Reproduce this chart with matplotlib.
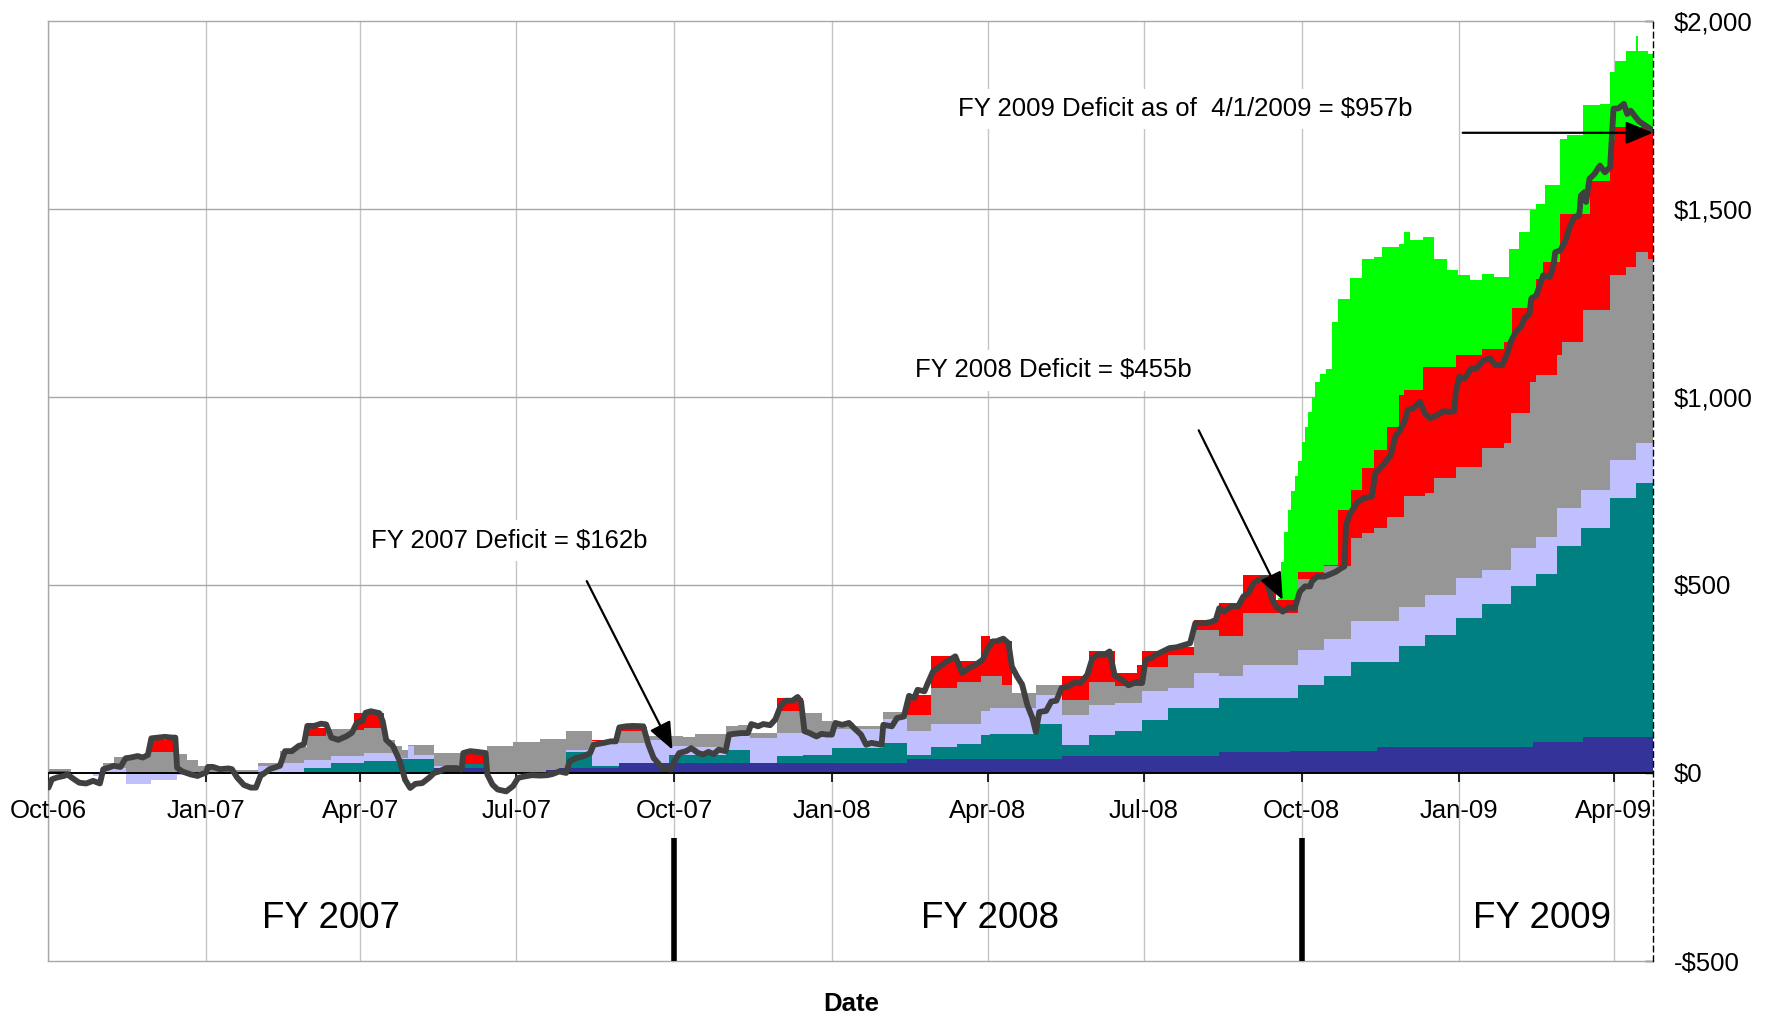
import numpy as np
import pandas as pd
import matplotlib
matplotlib.use("Agg")
import matplotlib.pyplot as plt

plt.rcParams['font.family'] = ['Liberation Sans', 'DejaVu Sans']

# day offsets counted from 1 Oct 2006, values in $ billions (top of each stacked band)
START = np.datetime64('2006-10-01')
END_DAY = 936

navy_days = [0, 225, 256, 290, 298, 333, 501, 591, 683, 724, 775, 866, 895]
navy_top = [0, 13, 0, 9, 13, 26, 38, 44, 56, 58, 69, 82, 96]

teal_days = [0, 12, 92, 149, 165, 184, 206, 225, 241, 256, 302, 317, 333, 362, 371, 395, 409, 425,
             440, 457, 487, 501, 515, 530, 544, 549, 576, 591, 607, 622, 638, 653, 683, 729, 744,
             760, 788, 803, 821, 836, 853, 868, 880, 894, 911, 926]
teal_top = [5, 0, 2, 14, 26, 31, 38, 13, 25, 0, 57, 18, 27, 47, 49, 60, 27, 44,
            47, 66, 80, 47, 68, 77, 102, 104, 130, 75, 102, 112, 142, 172, 199, 233, 258,
            296, 338, 367, 413, 449, 497, 528, 604, 652, 732, 770]

lav_days = [0, 26, 30, 45, 60, 75, 92, 122, 135, 149, 165, 184, 202, 206, 210, 213, 225, 241, 256,
            302, 317, 333, 349, 362, 377, 395, 409, 425, 457, 487, 501, 515, 544, 549, 576, 591,
            607, 622, 638, 653, 668, 683, 697, 729, 744, 760, 788, 803, 821, 836, 853, 868, 880,
            894, 911, 926]
lav_top = [0, -8, 14, -30, -20, -5, 0, 19, 27, 35, 45, 53, 44, 40, 71, 49, 18, 25, 0,
           62, 84, 80, 88, 71, 69, 106, 93, 106, 117, 144, 111, 130, 166, 173, 207, 153,
           181, 187, 217, 226, 265, 257, 288, 327, 357, 403, 442, 473, 518, 540, 597, 628, 704,
           752, 832, 876]

gray_days = [0, 13, 30, 32, 38, 45, 60, 73, 81, 87, 92, 108, 122, 135, 142, 151, 162, 176, 184, 195,
             202, 206, 210, 225, 241, 256, 271, 287, 302, 317, 333, 349, 370, 377, 395, 402, 409,
             425, 440, 451, 457, 470, 487, 501, 515, 530, 544, 556, 562, 576, 591, 607, 622, 638,
             653, 668, 683, 697, 729, 744, 760, 766, 773, 781, 791, 803, 808, 821, 836, 849, 853,
             864, 868, 880, 883, 895, 911, 920, 926, 933]
gray_top = [10, 0, 14, 27, 42, 47, 56, 50, 35, 19, 10, 8, 26, 58, 70, 98, 116, 115, 119, 88,
            71, 62, 73, 53, 25, 71, 82, 91, 111, 84, 111, 99, 95, 104, 124, 128, 106,
            164, 159, 137, 133, 125, 161, 155, 226, 243, 257, 235, 212, 235, 195, 243, 232, 283,
            314, 380, 363, 425, 515, 549, 624, 637, 650, 681, 735, 743, 783, 814, 863, 876, 956,
            1040, 1058, 1111, 1146, 1230, 1323, 1345, 1385, 1367]

red_days = [0, 60, 74, 151, 162, 178, 196, 241, 256, 317, 333, 349, 425, 440, 501, 515, 530, 544,
            549, 556, 562, 591, 607, 622, 635, 638, 653, 668, 683, 697, 716, 729, 744, 752, 760,
            766, 773, 781, 788, 791, 802, 821, 836, 849, 854, 864, 868, 872, 882, 899, 911, 914]
red_top = [0, 87, 0, 120, 0, 160, 0, 55, 0, 88, 121, 0, 199, 0, 208, 310, 297, 363,
           357, 350, 0, 257, 323, 265, 287, 323, 336, 407, 451, 525, 460, 534, 553, 699, 752,
           810, 858, 920, 1004, 1018, 1080, 1111, 1128, 1146, 1237, 1270, 1314, 1358, 1486, 1575,
           1686, 1717]

green_days = [0, 717, 719, 721, 723, 725, 727, 729, 731, 733, 735, 737, 739, 742, 745, 749, 752,
              759, 766, 773, 778, 788, 791, 794, 802, 808, 816, 822, 829, 836, 843, 852, 858, 864,
              868, 873, 882, 886, 895, 905, 911, 914, 920, 926, 927, 933]
green_top = [0, 465, 560, 640, 700, 750, 790, 830, 880, 920, 960, 1000, 1040, 1060, 1075, 1199, 1261,
             1315, 1367, 1372, 1398, 1407, 1438, 1416, 1425, 1367, 1336, 1325, 1310, 1327, 1319, 1393,
             1438, 1496, 1513, 1562, 1686, 1695, 1775, 1779, 1863, 1894, 1920, 1960, 1920, 1912]

line_days = [0, 2, 5, 9, 11, 15, 18, 22, 26, 30, 32, 35, 38, 42, 45, 48, 52, 55, 58, 60,
             64, 68, 72, 74, 75, 78, 83, 87, 89, 92, 93, 96, 100, 105, 107, 110, 114, 118, 121, 124,
             125, 129, 135, 138, 142, 146, 149, 151, 155, 159, 162, 165, 169, 172, 174, 177, 180, 183, 185, 188,
             193, 195, 197, 201, 205, 208, 211, 214, 218, 222, 225, 228, 232, 238, 241, 242, 246, 250, 255, 256,
             259, 262, 267, 271, 274, 278, 282, 287, 291, 294, 298, 302, 304, 308, 312, 316, 318, 324, 328, 331,
             333, 337, 341, 347, 350, 353, 358, 363, 365, 368, 372, 375, 379, 382, 385, 388, 391, 395, 397, 400,
             404, 408, 410, 414, 417, 421, 424, 427, 430, 434, 437, 439, 441, 444, 448, 451, 454, 457, 459, 463,
             467, 470, 474, 477, 480, 486, 487, 492, 495, 499, 502, 505, 507, 511, 513, 516, 520, 524, 529, 533,
             537, 541, 545, 548, 551, 553, 557, 560, 562, 565, 568, 571, 574, 576, 578, 582, 585, 588, 591, 595,
             598, 602, 606, 609, 612, 616, 619, 622, 626, 630, 635, 638, 640, 643, 646, 650, 654, 658, 663, 666,
             669, 674, 678, 681, 683, 686, 690, 694, 697, 700, 703, 706, 710, 714, 716, 720, 724, 727, 730, 733,
             736, 737, 740, 744, 747, 751, 754, 756, 757, 759, 763, 767, 772, 774, 777, 780, 783, 786, 788, 791,
             793, 796, 800, 803, 806, 810, 814, 817, 820, 821, 823, 826, 830, 833, 837, 841, 844, 848, 851, 853,
             856, 859, 861, 864, 865, 868, 870, 872, 876, 878, 879, 882, 885, 887, 890, 893, 894, 896, 897, 899,
             902, 905, 908, 911, 913, 916, 919, 921, 923, 926, 928, 930, 933, 936]
line_vals = [-39, -17, -12, -8, -4, -17, -26, -28, -21, -28, 10, 14, 19, 16, 39, 41, 45, 41, 48, 92,
             94, 96, 94, 94, 14, 4, -4, -8, -4, 1, 16, 16, 10, 12, 10, -12, -32, -39, -39, -4,
             -4, 10, 19, 58, 58, 72, 76, 125, 125, 131, 129, 94, 88, 94, 98, 107, 134, 138, 160, 164,
             159, 137, 88, 71, 31, -18, -40, -29, -27, -13, 0, 4, 13, 13, 9, 53, 58, 56, 53, -4,
             -31, -44, -49, -35, -13, -9, -6, -7, -6, -3, 4, 0, 31, 40, 44, 53, 75, 80, 84, 84,
             121, 124, 125, 124, 75, 40, 13, 9, 30, 53, 58, 66, 53, 49, 56, 50, 62, 58, 102, 104,
             106, 106, 130, 124, 130, 127, 142, 177, 192, 192, 202, 190, 111, 106, 97, 104, 102, 102, 133, 128,
             133, 119, 102, 75, 80, 75, 128, 124, 146, 150, 205, 199, 221, 217, 239, 270, 283, 296, 310, 266,
             279, 288, 301, 332, 350, 350, 357, 345, 283, 257, 235, 181, 146, 109, 162, 165, 190, 192, 226, 230,
             239, 239, 261, 305, 314, 314, 323, 259, 248, 233, 242, 239, 301, 305, 314, 323, 332, 334, 341, 345,
             398, 398, 401, 407, 438, 429, 443, 443, 469, 478, 504, 513, 518, 460, 443, 429, 440, 438, 482, 496,
             496, 509, 522, 522, 527, 535, 544, 549, 659, 686, 717, 730, 735, 797, 810, 827, 845, 898, 907, 934,
             965, 969, 987, 956, 943, 951, 962, 960, 962, 1013, 1053, 1049, 1075, 1075, 1097, 1102, 1084, 1084, 1115, 1146,
             1173, 1186, 1208, 1221, 1261, 1270, 1297, 1323, 1319, 1350, 1385, 1389, 1416, 1447, 1478, 1482, 1535, 1544, 1518, 1580,
             1593, 1615, 1597, 1611, 1766, 1767, 1779, 1752, 1761, 1743, 1732, 1726, 1717, 1708]

tick_dates = ['2006-10-01', '2007-01-01', '2007-04-01', '2007-07-01', '2007-10-01', '2008-01-01',
              '2008-04-01', '2008-07-01', '2008-10-01', '2009-01-01', '2009-04-01']
fy_starts = ['2007-10-01', '2008-10-01']
fy_labels = ['FY 2007', 'FY 2008', 'FY 2009']
fy_label_dates = ['2007-03-15', '2008-04-02', '2009-02-18']
y_ticks = [-500, 0, 500, 1000, 1500, 2000]


def to_dates(days):
    return START + np.array(days, dtype='timedelta64[D]')


fig = plt.figure(figsize=(17.68, 10.17), dpi=100)
ax = fig.add_axes([0.02743, 0.05506, 0.9075, 0.92458])

tick_x = np.array(tick_dates, dtype='datetime64[D]')

# grid
ax.vlines(tick_x, -500, 2000, color='#c4c4c4', lw=1, zorder=0)
for yv in [500, 1000, 1500]:
    ax.axhline(yv, color='#a8a8a8', lw=1, zorder=0)

# stacked bands, drawn from the top band down so lower ones sit in front
layers = [(green_days, green_top, '#00FF00'),
          (red_days, red_top, '#FF0000'),
          (gray_days, gray_top, '#969696'),
          (lav_days, lav_top, '#C0C0FF'),
          (teal_days, teal_top, '#008080'),
          (navy_days, navy_top, '#333399')]
for days, tops, col in layers:
    xx = to_dates(days + [END_DAY])
    yy = np.array(tops + [tops[-1]], dtype=float)
    ax.fill_between(xx, 0, yy, step='post', color=col, lw=0, zorder=2)

ax.axhline(0, color='black', lw=1.4, zorder=4)
ax.vlines(tick_x, -25, 0, color='black', lw=1.2, zorder=4)

ax.plot(to_dates(line_days), line_vals, color='#404040', lw=4.2, zorder=6,
        solid_joinstyle='round', solid_capstyle='round')

# x labels sit inside the plot, below the zero line
for d in tick_x:
    ax.text(d, -100, pd.Timestamp(d).strftime('%b-%y'), ha='center', va='center',
            fontsize=18.5, zorder=5)

ax.vlines(np.array(fy_starts, dtype='datetime64[D]'), -500, -172, color='black', lw=4, zorder=5)
for lab, d in zip(fy_labels, fy_label_dates):
    ax.text(np.datetime64(d), -386, lab, ha='center', va='center', fontsize=26.5)

# annotations
box = dict(facecolor='white', edgecolor='none', pad=6)
arrow = dict(arrowstyle='-|>,head_length=0.6,head_width=0.25', color='black', lw=1.6,
             mutation_scale=28, shrinkA=0, shrinkB=0)
ax.text(np.datetime64('2007-06-27'), 618, 'FY 2007 Deficit = $162b', ha='center', va='center',
        fontsize=18.5, bbox=box, zorder=7)
ax.annotate('', xy=(np.datetime64('2007-09-30'), 62), xytext=(np.datetime64('2007-08-11'), 510),
            arrowprops=arrow, zorder=8)
ax.text(np.datetime64('2008-05-09'), 1070, 'FY 2008 Deficit = $455b', ha='center', va='center',
        fontsize=18.5, bbox=box, zorder=7)
ax.annotate('', xy=(np.datetime64('2008-09-20'), 460), xytext=(np.datetime64('2008-08-02'), 911),
            arrowprops=arrow, zorder=8)
ax.text(np.datetime64('2008-07-25'), 1765, 'FY 2009 Deficit as of  4/1/2009 = $957b', ha='center',
        va='center', fontsize=18.5, bbox=box, zorder=7)
ax.annotate('', xy=(np.datetime64('2009-04-24'), 1702), xytext=(np.datetime64('2009-01-03'), 1702),
            arrowprops=arrow, zorder=8)

ax.set_xlim(START, START + np.timedelta64(END_DAY, 'D'))
ax.set_ylim(-500, 2000)
ax.set_xticks([])
ax.yaxis.tick_right()
ax.set_yticks(y_ticks)
ax.set_yticklabels([('-$' if v < 0 else '$') + f'{abs(v):,}' for v in y_ticks])
ax.tick_params(axis='y', direction='in', length=6, width=1, pad=15, labelsize=18.5)

for s in ['top', 'left', 'bottom']:
    ax.spines[s].set_color('#a8a8a8')
    ax.spines[s].set_linewidth(1)
ax.spines['right'].set_linestyle((0, (4, 3)))
ax.spines['right'].set_linewidth(1)
ax.spines['right'].set_zorder(9)

fig.text(851 / 1768, 1 - 1004 / 1017, 'Date', ha='center', va='center', fontsize=18.5,
         fontweight='bold')

fig.savefig('out.png', dpi=100)
